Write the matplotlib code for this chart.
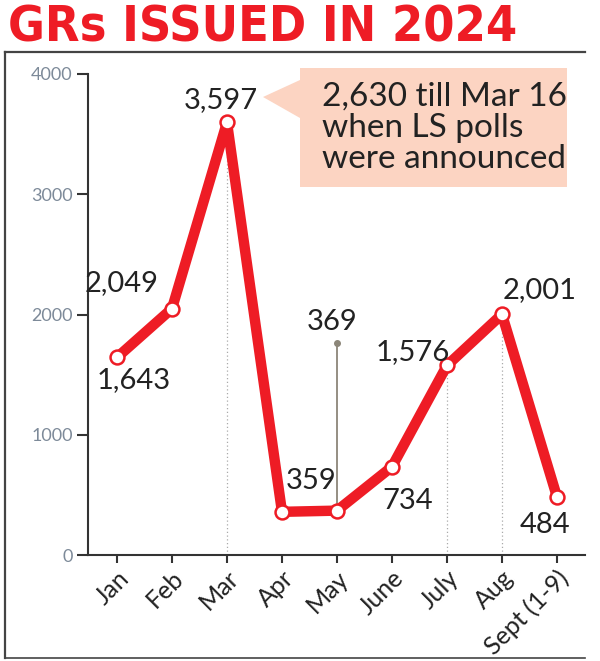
import matplotlib
matplotlib.use("Agg")
import matplotlib.pyplot as plt
from matplotlib.lines import Line2D
from matplotlib.patches import Polygon
from matplotlib.transforms import ScaledTranslation

months = ["Jan", "Feb", "Mar", "Apr", "May", "June", "July", "Aug", "Sept (1-9)"]
grs = [1643, 2049, 3597, 359, 369, 734, 1576, 2001, 484]
labels = ["1,643", "2,049", "3,597", "359", "369", "734", "1,576", "2,001", "484"]
yticks = [0, 1000, 2000, 3000, 4000]
note = "2,630 till Mar 16\nwhen LS polls\nwere announced"
may_stem_top = 1760

RED = "#ee1c25"
DARK = "#222222"
W, H = 600, 661

plt.rcParams['font.family'] = ['Lato', 'DejaVu Sans']

fig = plt.figure(figsize=(6, 6.61), dpi=100)

def fx(px):
    return px / W

def fy(py):
    return 1 - py / H

ax = fig.add_axes([fx(88), fy(555), fx(585) - fx(88), fy(74) - fy(555)])
x = list(range(len(months)))

# dotted guides
for i in [2, 6, 7]:
    ax.plot([i, i], [0, grs[i]], color="#aaaaaa", lw=0.9, ls=(0, (1, 2)), zorder=1)
# May stem
ax.plot([4, 4], [grs[4], may_stem_top], color="#8c8679", lw=1.3, zorder=1)
ax.plot([4], [may_stem_top], marker="o", ms=4, color="#8c8679", zorder=1)

ax.plot(x, grs, color=RED, lw=7.5, solid_joinstyle="round", solid_capstyle="round",
        marker="o", ms=10, mfc="white", mec=RED, mew=1.8, zorder=3)

# value labels (offsets in pixels)
offs = [(17, -23), (-50, 26), (-6, 22), (29, 31), (-5, 21), (16, -34), (-34, 13), (38, 24), (-12, -28)]
for i, (dx, dy) in enumerate(offs):
    yy = grs[i] if i != 4 else may_stem_top
    ax.annotate(labels[i], (i, yy), xytext=(dx, dy), textcoords="offset pixels",
                ha="center", va="center", fontsize=21, color=DARK, zorder=4)

ax.set_xlim(-0.527, 8.51)
ax.set_ylim(0, 4000)
ax.set_xticks(x)
ax.set_xticklabels(months, rotation=45, ha="right", rotation_mode="anchor",
                   fontsize=18, color=DARK)
shift = ScaledTranslation(8 / 72, 2 / 72, fig.dpi_scale_trans)
for lab in ax.get_xticklabels():
    lab.set_transform(lab.get_transform() + shift)
ax.set_yticks(yticks)
ax.set_yticklabels([str(v) for v in yticks], fontsize=13, color="#7d8a99")
ax.tick_params(axis="y", length=8, width=1.5, color="#333333", pad=3)
ax.tick_params(axis="x", length=6, width=1.5, color="#333333", pad=2)
for s in ["top", "right"]:
    ax.spines[s].set_visible(False)
for s in ["left", "bottom"]:
    ax.spines[s].set_color("#333333")
    ax.spines[s].set_linewidth(1.5)
ax.set_facecolor("none")

# title
fig.text(fx(8), fy(27), "GRs ISSUED IN 2024", ha="left", va="center", color=RED,
         fontsize=36, fontweight="bold", fontstretch="condensed", family="DejaVu Sans")

# frame
fig.add_artist(Line2D([fx(5), fx(585)], [fy(52), fy(52)], color="#444444", lw=1.6))
fig.add_artist(Line2D([fx(5), fx(5)], [fy(52), fy(658)], color="#444444", lw=1.6))
fig.add_artist(Line2D([fx(5), fx(585)], [fy(658), fy(658)], color="#444444", lw=1.2))

# callout box
box = Polygon([(fx(300), fy(68)), (fx(567), fy(68)), (fx(567), fy(187)), (fx(300), fy(187)),
               (fx(300), fy(118)), (fx(263), fy(97)), (fx(300), fy(80))],
              closed=True, transform=fig.transFigure, facecolor="#fcd4c2", edgecolor="none")
fig.add_artist(box)
fig.text(fx(322), fy(128), note, ha="left", va="center", fontsize=24, color=DARK,
         linespacing=1.05)

fig.savefig("out.png", dpi=100)
